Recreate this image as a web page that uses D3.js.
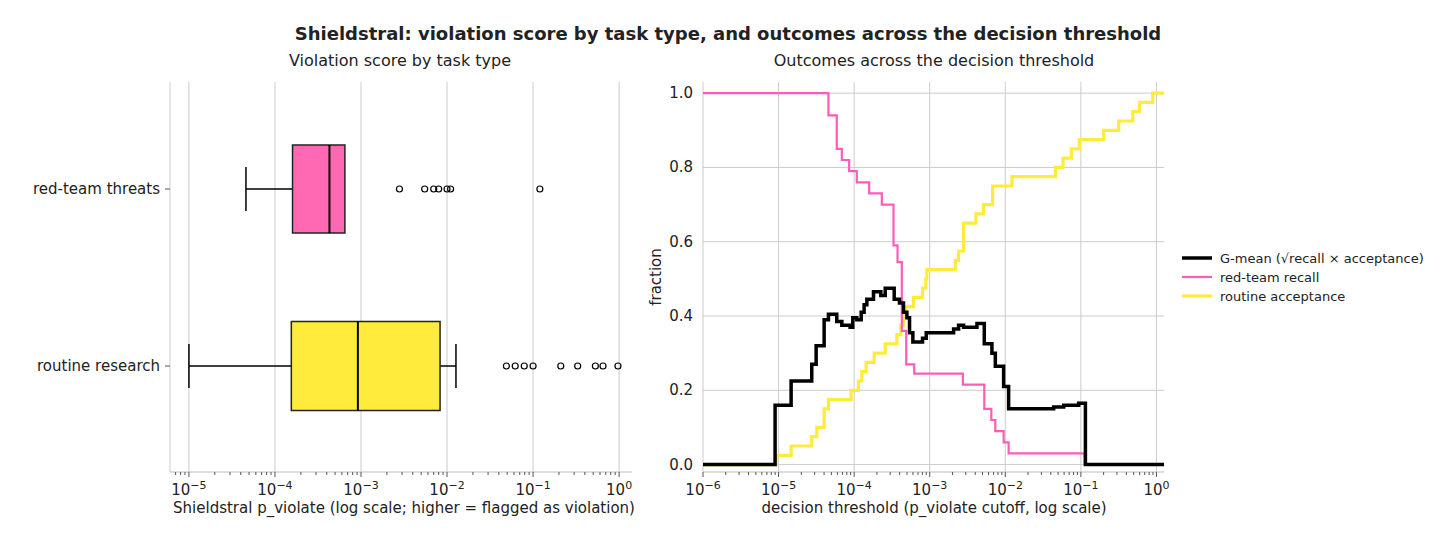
<!DOCTYPE html>
<html><head><meta charset="utf-8">
<script src="https://cdn.jsdelivr.net/npm/d3@7"></script>
<style>body{margin:0;background:#fff;font-family:"DejaVu Sans",sans-serif}</style>
</head><body><div id="chart"></div>
<script>
// ---- data ----
var categories = ["red-team threats", "routine research"];
var boxFill = ["#ff69b4", "#ffeb3b"];
// [whiskerLo, q1, median, q3, whiskerHi]
var boxStats = [
  [4.6e-5, 1.6e-4, 4.3e-4, 6.5e-4, 6.5e-4],
  [1.0e-5, 1.55e-4, 9.2e-4, 8.3e-3, 1.27e-2]
];
var outliers = [
  [2.8e-3, 5.5e-3, 7.0e-3, 8.0e-3, 1.0e-2, 1.1e-2, 1.2e-1],
  [0.049, 0.062, 0.079, 0.10, 0.21, 0.33, 0.53, 0.65, 0.97]
];
// threshold curves: log10(threshold) where a step starts, and value after it
var recallLog = [-6, -4.340, -4.230, -4.163, -4.066, -3.965, -3.801, -3.634, -3.479, -3.426, -3.369, -3.311, -3.205, -2.561, -2.278, -2.185, -2.132, -2.022, -1.956, -0.949, 0.1];
var recallVal = [1.0, 0.94, 0.85, 0.82, 0.79, 0.76, 0.73, 0.70, 0.59, 0.545, 0.36, 0.27, 0.245, 0.215, 0.15, 0.12, 0.09, 0.06, 0.03, 0.0, 0.0];
var acceptLog = [-6, -5.033, -4.834, -4.561, -4.494, -4.397, -4.340, -4.040, -3.943, -3.898, -3.841, -3.735, -3.589, -3.435, -3.382, -3.347, -3.316, -3.214, -3.095, -3.051, -3.038, -2.662, -2.618, -2.552, -2.389, -2.287, -2.168, -1.912, -1.338, -1.236, -1.126, -1.020, -0.698, -0.499, -0.313, -0.225, -0.049, 0.1];
var acceptVal = [0.0, 0.025, 0.05, 0.075, 0.10, 0.15, 0.175, 0.20, 0.225, 0.25, 0.275, 0.30, 0.325, 0.35, 0.375, 0.40, 0.425, 0.45, 0.475, 0.50, 0.525, 0.55, 0.575, 0.65, 0.675, 0.70, 0.75, 0.775, 0.80, 0.825, 0.85, 0.875, 0.90, 0.925, 0.95, 0.975, 1.0, 1.0];
var gmeanLog = [-6, -5.046, -4.834, -4.561, -4.503, -4.397, -4.340, -4.230, -4.163, -4.053, -4.018, -3.965, -3.907, -3.868, -3.832, -3.744, -3.647, -3.589, -3.470, -3.400, -3.347, -3.302, -3.267, -3.223, -3.095, -3.046, -2.684, -2.618, -2.552, -2.375, -2.278, -2.177, -2.132, -2.022, -1.956, -1.360, -1.227, -1.029, -0.940, 0.1];
var gmeanVal = [0.0, 0.16, 0.225, 0.27, 0.32, 0.39, 0.405, 0.385, 0.375, 0.37, 0.395, 0.39, 0.41, 0.43, 0.445, 0.465, 0.455, 0.475, 0.445, 0.435, 0.41, 0.395, 0.355, 0.33, 0.34, 0.355, 0.365, 0.375, 0.37, 0.38, 0.325, 0.30, 0.265, 0.21, 0.15, 0.155, 0.16, 0.165, 0.0, 0.0];
var leftTicks = [-5, -4, -3, -2, -1, 0];
var rightTicks = [-6, -5, -4, -3, -2, -1, 0];
var yTicks = [0, 0.2, 0.4, 0.6, 0.8, 1.0];
var legendItems = [
  {label: "G-mean (\u221arecall \u00d7 acceptance)", color: "#000", w: 3.5},
  {label: "red-team recall", color: "#ff5cb8", w: 2.2},
  {label: "routine acceptance", color: "#ffeb3b", w: 3.2}
];

var svg = d3.select("#chart").append("svg").attr("width", 1456).attr("height", 542);
var grid = "#cccccc";

svg.append("text").attr("x", 728).attr("y", 40).attr("text-anchor", "middle")
  .attr("font-size", "18px").attr("font-weight", "bold").attr("fill", "#222")
  .text("Shieldstral: violation score by task type, and outcomes across the decision threshold");

function logLabel(sel, e) {
  sel.text("10");
  sel.append("tspan").attr("dy", "-0.55em").attr("font-size", "11px").text(e === 0 ? "0" : "\u2212" + (-e));
}

//============ left panel ============
var L = {x0: 170, x1: 632, y0: 82, y1: 472};
var xl = d3.scaleLog().domain([Math.pow(10, -5.22), Math.pow(10, 0.15)]).range([L.x0, L.x1]);
var yl = d3.scalePoint().domain(categories).range([189, 366]);
var gl = svg.append("g");

gl.append("text").attr("x", 400).attr("y", 66).attr("text-anchor", "middle").attr("font-size", "16px").attr("fill", "#222")
  .text("Violation score by task type");

leftTicks.forEach(function(e){
  gl.append("line").attr("x1", xl(Math.pow(10, e))).attr("x2", xl(Math.pow(10, e)))
    .attr("y1", L.y0).attr("y2", L.y1).attr("stroke", grid);
});
gl.append("line").attr("x1", L.x0).attr("x2", L.x0).attr("y1", L.y0).attr("y2", L.y1).attr("stroke", grid);
gl.append("line").attr("x1", L.x0).attr("x2", L.x1).attr("y1", L.y1).attr("y2", L.y1).attr("stroke", "#bbb");
// minor ticks
for (var e = -6; e <= 0; e++) for (var m = 2; m <= 9; m++) {
  var v = m * Math.pow(10, e);
  if (v < xl.domain()[0] || v > xl.domain()[1]) continue;
  gl.append("line").attr("x1", xl(v)).attr("x2", xl(v)).attr("y1", L.y1).attr("y2", L.y1 + 3).attr("stroke", "#555");
}
leftTicks.forEach(function(e){
  var x = xl(Math.pow(10, e));
  gl.append("line").attr("x1", x).attr("x2", x).attr("y1", L.y1).attr("y2", L.y1 + 5).attr("stroke", "#555");
  gl.append("text").attr("x", x).attr("y", L.y1 + 23).attr("text-anchor", "middle").attr("font-size", "15px").attr("fill", "#222").call(logLabel, e);
});
gl.append("text").attr("x", (L.x0 + L.x1) / 2 + 3).attr("y", 513).attr("text-anchor", "middle").attr("font-size", "15px").attr("fill", "#222")
  .text("Shieldstral p_violate (log scale; higher = flagged as violation)");

categories.forEach(function(c, i){
  var y = yl(c), s = boxStats[i], h = i === 0 ? 44 : 44.5;
  gl.append("line").attr("x1", L.x0 - 5).attr("x2", L.x0).attr("y1", y).attr("y2", y).attr("stroke", "#555");
  gl.append("text").attr("x", L.x0 - 10).attr("y", y + 5).attr("text-anchor", "end").attr("font-size", "15px").attr("fill", "#222").text(c);
  gl.append("line").attr("x1", xl(s[0])).attr("x2", xl(s[1])).attr("y1", y).attr("y2", y).attr("stroke", "#000").attr("stroke-width", 1.5);
  gl.append("line").attr("x1", xl(s[3])).attr("x2", xl(s[4])).attr("y1", y).attr("y2", y).attr("stroke", "#000").attr("stroke-width", 1.5);
  [s[0], s[4]].forEach(function(w){
    if (w === s[3]) return;
    gl.append("line").attr("x1", xl(w)).attr("x2", xl(w)).attr("y1", y - 22).attr("y2", y + 22).attr("stroke", "#000").attr("stroke-width", 1.5);
  });
  gl.append("rect").attr("x", xl(s[1])).attr("y", y - h).attr("width", xl(s[3]) - xl(s[1])).attr("height", 2 * h)
    .attr("fill", boxFill[i]).attr("stroke", "#222").attr("stroke-width", 1.5);
  gl.append("line").attr("x1", xl(s[2])).attr("x2", xl(s[2])).attr("y1", y - h).attr("y2", y + h).attr("stroke", "#000").attr("stroke-width", 2);
  gl.selectAll(null).data(outliers[i]).enter().append("circle")
    .attr("cx", function(d){ return xl(d); }).attr("cy", y).attr("r", 3)
    .attr("fill", "none").attr("stroke", "#000").attr("stroke-width", 1.2);
});

//============ right panel ============
var R = {x0: 703, x1: 1164, y0: 82, y1: 472};
var xr = d3.scaleLinear().domain([-6, 0.1]).range([R.x0, R.x1]);
var yr = d3.scaleLinear().domain([-0.02, 1.03]).range([R.y1, R.y0]);
var gr = svg.append("g");

gr.append("text").attr("x", 934).attr("y", 66).attr("text-anchor", "middle").attr("font-size", "16px").attr("fill", "#222")
  .text("Outcomes across the decision threshold");

rightTicks.forEach(function(e){
  gr.append("line").attr("x1", xr(e)).attr("x2", xr(e)).attr("y1", R.y0).attr("y2", R.y1).attr("stroke", grid);
});
yTicks.forEach(function(t){
  gr.append("line").attr("x1", R.x0).attr("x2", R.x1).attr("y1", yr(t)).attr("y2", yr(t)).attr("stroke", grid);
  gr.append("text").attr("x", R.x0 - 10).attr("y", yr(t) + 5).attr("text-anchor", "end").attr("font-size", "15px").attr("fill", "#222").text(t.toFixed(1));
});
gr.append("line").attr("x1", R.x0).attr("x2", R.x1).attr("y1", R.y1).attr("y2", R.y1).attr("stroke", "#bbb");
for (var e2 = -6; e2 <= 0; e2++) for (var m2 = 2; m2 <= 9; m2++) {
  var lv = e2 + Math.log10(m2);
  if (lv > 0.1) continue;
  gr.append("line").attr("x1", xr(lv)).attr("x2", xr(lv)).attr("y1", R.y1).attr("y2", R.y1 + 3).attr("stroke", "#555");
}
rightTicks.forEach(function(e){
  gr.append("line").attr("x1", xr(e)).attr("x2", xr(e)).attr("y1", R.y1).attr("y2", R.y1 + 5).attr("stroke", "#555");
  gr.append("text").attr("x", xr(e)).attr("y", R.y1 + 23).attr("text-anchor", "middle").attr("font-size", "15px").attr("fill", "#222").call(logLabel, e);
});
gr.append("text").attr("x", 934).attr("y", 513).attr("text-anchor", "middle").attr("font-size", "15px").attr("fill", "#222")
  .text("decision threshold (p_violate cutoff, log scale)");
gr.append("text").attr("transform", "translate(661," + ((R.y0 + R.y1) / 2) + ") rotate(-90)").attr("text-anchor", "middle")
  .attr("font-size", "15px").attr("fill", "#222").text("fraction");

var line = d3.line().curve(d3.curveStepAfter).x(function(d){ return xr(d[0]); }).y(function(d){ return yr(d[1]); });
function draw(xs, ys, color, w) {
  gr.append("path").datum(d3.zip(xs, ys)).attr("d", line).attr("fill", "none").attr("stroke", color).attr("stroke-width", w);
}
draw(acceptLog, acceptVal, legendItems[2].color, legendItems[2].w);
draw(recallLog, recallVal, legendItems[1].color, legendItems[1].w);
draw(gmeanLog, gmeanVal, legendItems[0].color, legendItems[0].w);

legendItems.forEach(function(it, i){
  var y = 258 + i * 19;
  svg.append("line").attr("x1", 1182).attr("x2", 1212).attr("y1", y).attr("y2", y).attr("stroke", it.color).attr("stroke-width", it.w);
  svg.append("text").attr("x", 1220).attr("y", y + 4.5).attr("font-size", "13px").attr("fill", "#222").text(it.label);
});
</script></body></html>
